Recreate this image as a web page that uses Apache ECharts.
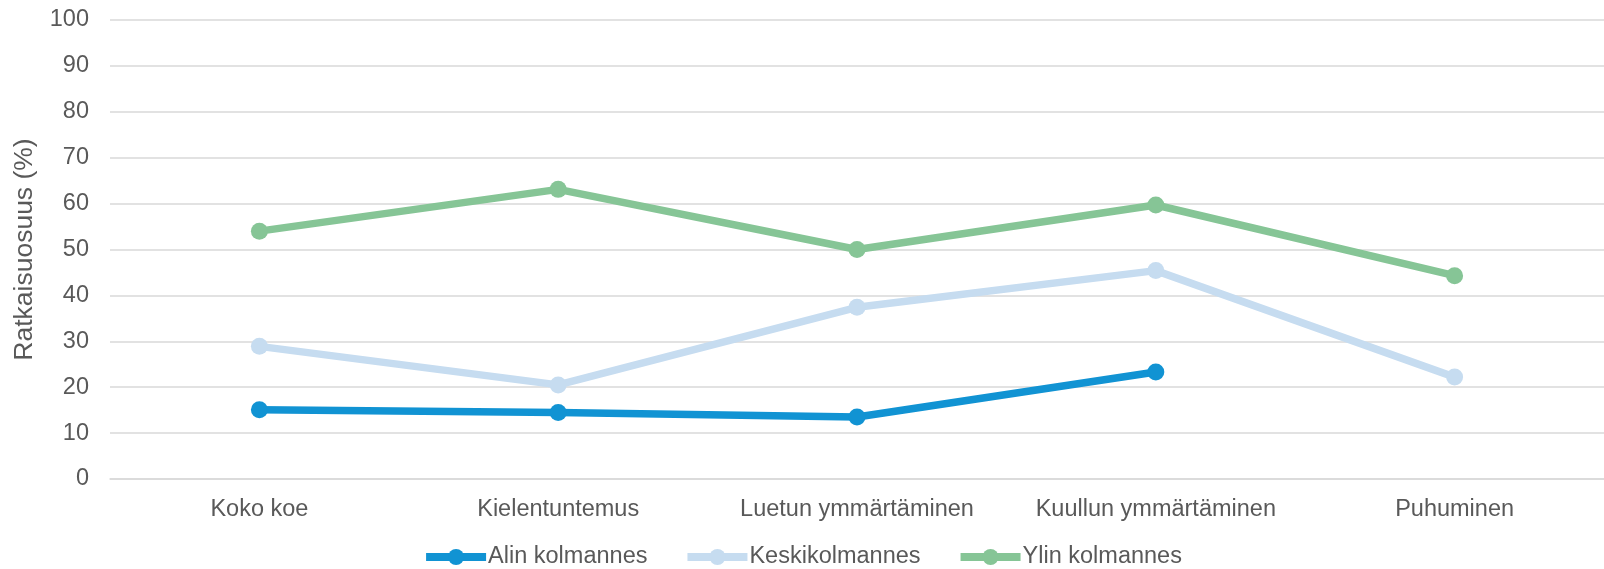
<!DOCTYPE html>
<html>
<head>
<meta charset="utf-8">
<script src="https://cdn.jsdelivr.net/npm/echarts@6/dist/echarts.min.js"></script>
<style>
  html, body { margin: 0; padding: 0; background: #fff; }
  #chart { width: 1604px; height: 569px; }
</style>
</head>
<body>
<div id="chart"></div>
<script>
  // kategoriat ja sarjat
  const categories = ['Koko koe', 'Kielentuntemus', 'Luetun ymmärtäminen', 'Kuullun ymmärtäminen', 'Puhuminen'];
  const alin = [15.1, 14.5, 13.5, 23.3, null];
  const keski = [28.9, 20.5, 37.4, 45.4, 22.2];
  const ylin = [54.0, 63.1, 50.0, 59.7, 44.3];
  const seriesNames = ['Alin kolmannes', 'Keskikolmannes', 'Ylin kolmannes'];
  const colors = ['#1193d3', '#c6dcf0', '#86c596'];

  const font = '"Liberation Sans", Arial, sans-serif';
  const chart = echarts.init(document.getElementById('chart'));

  function line(name, data, color) {
    return {
      type: 'line',
      name: name,
      data: data,
      symbol: 'circle',
      symbolSize: 17,
      connectNulls: false,
      lineStyle: { color: color, width: 7.5 },
      itemStyle: { color: color },
      emphasis: { disabled: true }
    };
  }

  chart.setOption({
    animation: false,
    textStyle: { fontFamily: font },
    grid: { left: 110, right: -3, top: 20, bottom: 90 },
    legend: {
      bottom: -5,
      left: 'center',
      itemWidth: 60,
      itemHeight: 20,
      itemGap: 36,
      lineStyle: { width: 8 },
      textStyle: { fontSize: 23.5, color: '#595959', fontFamily: font, padding: [0, 0, 0, -3] },
      data: seriesNames
    },
    xAxis: {
      type: 'category',
      data: categories,
      axisTick: { show: false },
      axisLine: { lineStyle: { color: '#d9d9d9', width: 1.5 } },
      axisLabel: { interval: 0, color: '#595959', fontSize: 23.5, margin: 19, fontFamily: font }
    },
    yAxis: {
      type: 'value',
      min: 0,
      max: 100,
      interval: 10,
      name: 'Ratkaisuosuus (%)',
      nameLocation: 'middle',
      nameGap: 72,
      nameTextStyle: { color: '#595959', fontSize: 26.5, fontFamily: font },
      axisLine: { show: false },
      axisTick: { show: false },
      axisLabel: { color: '#595959', fontSize: 23.5, margin: 21, fontFamily: font },
      splitLine: { lineStyle: { color: '#d9d9d9', width: 1.5 } }
    },
    series: [
      line(seriesNames[0], alin, colors[0]),
      line(seriesNames[1], keski, colors[1]),
      line(seriesNames[2], ylin, colors[2])
    ]
  });
</script>
</body>
</html>
